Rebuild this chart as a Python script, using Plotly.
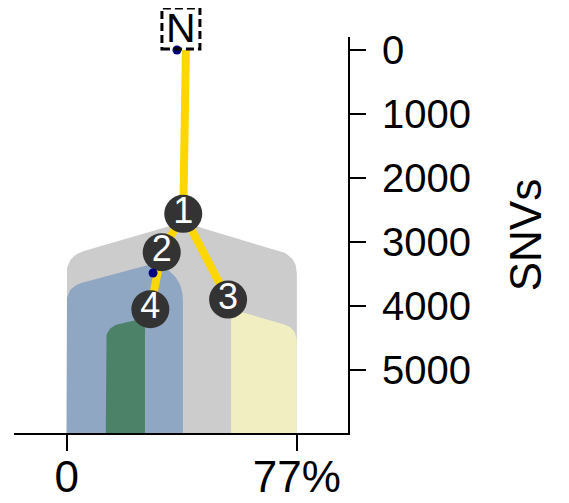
import numpy as np
import plotly.graph_objects as go

# ---------------- data ----------------
# tree nodes: x = cellular fraction (%), y = SNVs
node_labels = ["1", "2", "3", "4"]
node_freq = [39.0, 31.8, 54.0, 28.0]
node_snv = [2560, 3160, 3900, 4050]

root_label = "N"
root_freq = 39.9
root_snv = 0

edge_parent = ["N", "1", "1", "2"]
edge_child = ["1", "2", "3", "4"]

marker_dot_freq = [36.9, 28.9]
marker_dot_snv = [0, 3484]

# clone areas (drawing order: 1, 2, 3, 4)
clone_ids = ["1", "2", "3", "4"]
clone_left = [0.0, 0.0, 55.0, 13.1]
clone_right = [77.0, 38.9, 77.0, 26.2]
clone_peak_freq = [38.9, 29.5, 55.0, 26.2]
clone_peak_snv = [2690, 3330, 4047, 4188]
clone_left_snv = [3220, 3703, 4047, 4328]
clone_right_snv = [3220, 3530, 4344, 4188]

x_tickvals = [0, 77]
x_ticktext = ["0", "77%"]
y_tickvals = [0, 1000, 2000, 3000, 4000, 5000]
y_axis_title = "SNVs"

# ---------------- styles ----------------
clone_colors = {"1": "#cccccc", "2": "#8fa7c3", "3": "#f1eec1", "4": "#4c8368"}
clone_corner_px = {"1": (18, 18), "2": (16, 25), "3": (0, 14), "4": (14, 0)}
edge_color = "#FFD700"
node_fill = "#333333"
dot_color = "#00007f"
FONT = "Arial, Liberation Sans, sans-serif"

# page body adds an 8px margin, so the figure is 8px smaller than the window
W, H = 561, 495
M = dict(l=6, r=221, t=29, b=70)
X_RANGE = [-17.6, 94.1]
Y_RANGE = [5984, -203]  # reversed
plot_w = W - M["l"] - M["r"]
plot_h = H - M["t"] - M["b"]
KX = plot_w / (X_RANGE[1] - X_RANGE[0])
KY = plot_h / (Y_RANGE[0] - Y_RANGE[1])
Y_BOTTOM = Y_RANGE[0]


def bezier_corner(c, toward, r, n=14):
    """Rounded corner in px space: from the vertical leg (below c) to the leg toward `toward`."""
    cx, cy = c
    tx, ty = toward
    d = np.hypot(tx - cx, ty - cy)
    ux, uy = (tx - cx) / d, (ty - cy) / d
    p0 = np.array([cx, cy + r])
    p2 = np.array([cx + ux * r, cy + uy * r])
    t = np.linspace(0, 1, n)[:, None]
    pts = (1 - t) ** 2 * p0 + 2 * (1 - t) * t * np.array([cx, cy]) + t ** 2 * p2
    return pts


def clone_outline(i):
    cid = clone_ids[i]
    rl, rr = clone_corner_px[cid]
    x0, x1 = clone_left[i] * KX, clone_right[i] * KX
    xp, yp = clone_peak_freq[i] * KX, clone_peak_snv[i] * KY
    yl, yr = clone_left_snv[i] * KY, clone_right_snv[i] * KY
    yb = Y_BOTTOM * KY
    pts = [np.array([[x0, yb]])]
    if xp > x0 + 1e-6:
        pts.append(bezier_corner((x0, yl), (xp, yp), rl))
        pts.append(np.array([[xp, yp]]))
    else:
        pts.append(np.array([[x0, yp]]))
    if x1 > xp + 1e-6:
        pts.append(bezier_corner((x1, yr), (xp, yp), rr)[::-1])
    else:
        pts.append(np.array([[x1, yp]]))
    pts.append(np.array([[x1, yb]]))
    p = np.vstack(pts)
    return p[:, 0] / KX, p[:, 1] / KY


fig = go.Figure()

for i, cid in enumerate(clone_ids):
    xs, ys = clone_outline(i)
    fig.add_trace(go.Scatter(x=xs, y=ys, mode="lines", fill="toself",
                             fillcolor=clone_colors[cid], line=dict(width=0),
                             hoverinfo="skip", showlegend=False))

pos = {root_label: (root_freq, root_snv)}
for lab, f, s in zip(node_labels, node_freq, node_snv):
    pos[lab] = (f, s)

for p, c in zip(edge_parent, edge_child):
    fig.add_trace(go.Scatter(x=[pos[p][0], pos[c][0]], y=[pos[p][1], pos[c][1]],
                             mode="lines", line=dict(color=edge_color, width=8),
                             hoverinfo="skip", showlegend=False))

fig.add_trace(go.Scatter(x=node_freq, y=node_snv, mode="markers+text",
                         text=node_labels, textposition="middle center",
                         textfont=dict(family=FONT, size=36, color="white"),
                         marker=dict(size=38, color=node_fill, line=dict(width=0)),
                         hoverinfo="skip", showlegend=False))

fig.add_trace(go.Scatter(x=marker_dot_freq, y=marker_dot_snv, mode="markers",
                         marker=dict(size=9, color=dot_color),
                         hoverinfo="skip", showlegend=False, cliponaxis=False))

# root label with dashed box (box anchored in paper coords so it is not clipped)
root_px = (root_freq - X_RANGE[0]) / (X_RANGE[1] - X_RANGE[0])
root_py = (Y_RANGE[0] - root_snv) / (Y_RANGE[0] - Y_RANGE[1])
fig.add_annotation(x=root_freq, y=root_snv, xref="x", yref="y", text=root_label,
                   showarrow=False, xshift=-5, yshift=22, yanchor="middle",
                   font=dict(family=FONT, size=41, color="black"))
fig.add_shape(type="rect", xref="paper", yref="paper", xsizemode="pixel",
              ysizemode="pixel", xanchor=root_px, yanchor=root_py,
              x0=-24, x1=14, y0=1, y1=42,
              line=dict(color="black", width=3, dash="8px,4px"))

fig.update_layout(
    width=W, height=H, margin=M,
    paper_bgcolor="white", plot_bgcolor="white",
    font=dict(family=FONT, color="black"),
    xaxis=dict(range=X_RANGE, showgrid=False, zeroline=False, showline=True,
               linecolor="black", linewidth=2, ticks="outside", ticklen=16,
               tickwidth=2, tickcolor="black", tickvals=x_tickvals,
               ticktext=x_ticktext, tickfont=dict(size=44), automargin=False,
               ticklabelstandoff=-12),
    yaxis=dict(range=Y_RANGE, side="right", showgrid=False, zeroline=False,
               showline=True, linecolor="black", linewidth=2, ticks="outside",
               ticklen=16, tickwidth=2, tickcolor="black", tickvals=y_tickvals,
               tickfont=dict(size=40), automargin=False, ticklabelstandoff=8,
               title=dict(text=y_axis_title, font=dict(size=44), standoff=40)),
)

fig.write_html("out.html")
